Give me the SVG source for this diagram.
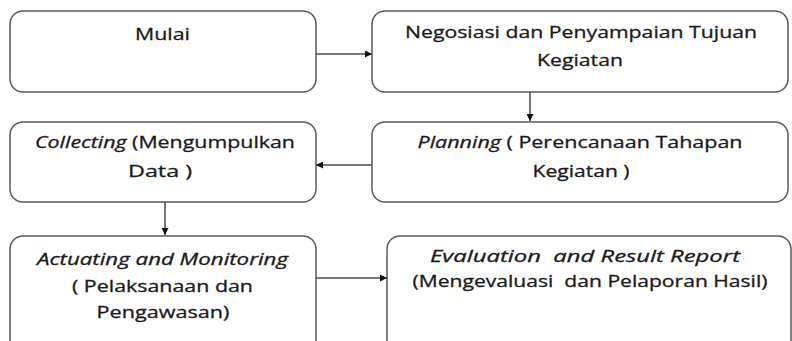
<svg xmlns="http://www.w3.org/2000/svg" width="792" height="341" viewBox="0 0 792 341">
<style>
.box{fill:#fff;stroke:#5a5a5a;stroke-width:1.5}
.t{font-family:"Open Sans","Liberation Sans",sans-serif;font-size:17px;fill:#1a1a1a;stroke:#1a1a1a;stroke-width:0.3;text-anchor:middle}
.i{font-style:italic}
.c{stroke:#4a4a4a;stroke-width:1.5;fill:none}
</style>
<defs>
<marker id="ah" viewBox="0 0 10 10" refX="10" refY="5" markerWidth="7" markerHeight="7" markerUnits="userSpaceOnUse" orient="auto">
<path d="M0,0 L10,5 L0,10 z" fill="#111"/>
</marker>
</defs>
<g id="mulai"><rect class="box" x="10" y="11" width="306" height="81" rx="13"/><text class="t" x="162.5" y="40" textLength="55" lengthAdjust="spacingAndGlyphs">Mulai</text></g>
<g id="negosiasi"><rect class="box" x="372" y="11" width="416" height="81" rx="13"/><text class="t" x="581" y="38" textLength="352" lengthAdjust="spacingAndGlyphs">Negosiasi dan Penyampaian Tujuan</text><text class="t" x="580" y="66" textLength="86" lengthAdjust="spacingAndGlyphs">Kegiatan</text></g>
<g id="planning"><rect class="box" x="372" y="122" width="416" height="80" rx="13"/><text class="t" x="580" y="148" textLength="325" lengthAdjust="spacingAndGlyphs"><tspan class="i">Planning</tspan> ( Perencanaan Tahapan</text><text class="t" x="581" y="177" textLength="97" lengthAdjust="spacingAndGlyphs">Kegiatan )</text></g>
<g id="collecting"><rect class="box" x="10" y="122" width="306" height="80" rx="13"/><text class="t" x="165" y="148" textLength="260" lengthAdjust="spacingAndGlyphs"><tspan class="i">Collecting</tspan> (Mengumpulkan</text><text class="t" x="160" y="177" textLength="64" lengthAdjust="spacingAndGlyphs">Data )</text></g>
<g id="actuating"><rect class="box" x="10" y="236" width="306" height="120" rx="13"/><text class="t i" x="162.5" y="265" textLength="251" lengthAdjust="spacingAndGlyphs">Actuating and Monitoring</text><text class="t" x="162.5" y="292" textLength="181" lengthAdjust="spacingAndGlyphs">( Pelaksanaan dan</text><text class="t" x="163" y="318" textLength="133" lengthAdjust="spacingAndGlyphs">Pengawasan)</text></g>
<g id="evaluation"><rect class="box" x="387" y="236" width="404" height="120" rx="13"/><text class="t i" x="585" y="262" textLength="310" lengthAdjust="spacingAndGlyphs" xml:space="preserve">Evaluation  and Result Report</text><text class="t" x="590" y="287" textLength="355" lengthAdjust="spacingAndGlyphs" xml:space="preserve">(Mengevaluasi  dan Pelaporan Hasil)</text></g>
<g id="connectors">
<line class="c" x1="316" y1="54" x2="372" y2="54" marker-end="url(#ah)"/>
<line class="c" x1="530" y1="92" x2="530" y2="121" marker-end="url(#ah)"/>
<line class="c" x1="372" y1="165" x2="316" y2="165" marker-end="url(#ah)"/>
<line class="c" x1="165" y1="202" x2="165" y2="235" marker-end="url(#ah)"/>
<line class="c" x1="316" y1="278" x2="387" y2="278" marker-end="url(#ah)"/>
</g>
</svg>
